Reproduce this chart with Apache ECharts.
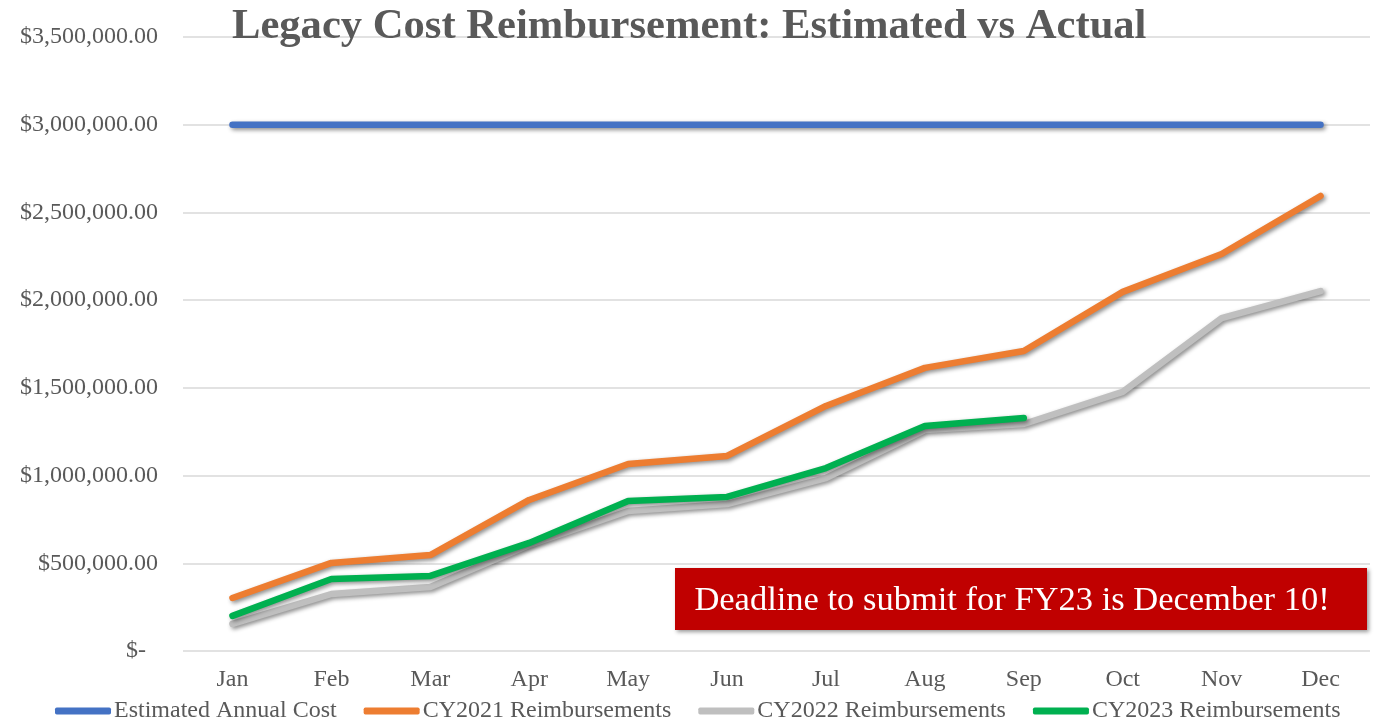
<!DOCTYPE html>
<html>
	<head>
		<meta charset="utf-8">
		<title>Legacy Cost Reimbursement</title>
		<script type="text/javascript" src="https://cdn.jsdelivr.net/npm/echarts@6/dist/echarts.min.js"></script>
		<style>
			html, body { margin: 0; padding: 0; background: #FFFFFF; }
			#main { width: 1376px; height: 721px; }
		</style>
	</head>
	<body>
		<div id="main"></div>
		<script type="text/javascript">
			// 数据
			var months = ['Jan', 'Feb', 'Mar', 'Apr', 'May', 'Jun', 'Jul', 'Aug', 'Sep', 'Oct', 'Nov', 'Dec'];
			var estimated = [3000000, 3000000, 3000000, 3000000, 3000000, 3000000, 3000000, 3000000, 3000000, 3000000, 3000000, 3000000];
			var cy2021 = [302000, 502000, 547000, 861000, 1066000, 1112000, 1397000, 1614000, 1710000, 2047000, 2263000, 2594000];
			var cy2022 = [154000, 325000, 365000, 604000, 798000, 838000, 986000, 1260000, 1294000, 1477000, 1898000, 2052000];
			var cy2023 = [200000, 410000, 428000, 616000, 855000, 878000, 1043000, 1283000, 1328000];

			var font = '"Liberation Serif", "Times New Roman", serif';

			function money(v) {
				if (v === 0) return '$-  ';
				return '$' + v.toLocaleString('en-US', { minimumFractionDigits: 2, maximumFractionDigits: 2 });
			}

			function line(name, data, color, z) {
				return {
					name: name,
					type: 'line',
					data: data,
					symbol: 'none',
					z: z,
					lineStyle: {
						width: 6.5,
						color: color,
						cap: 'round',
						join: 'round',
						shadowColor: 'rgba(0,0,0,0.45)',
						shadowBlur: 4,
						shadowOffsetX: 2,
						shadowOffsetY: 2
					},
					itemStyle: { color: color }
				};
			}

			var option = {
				animation: false,
				title: {
					text: 'Legacy Cost Reimbursement: Estimated vs Actual',
					left: 227,
					top: 0,
					textStyle: {
						fontFamily: font,
						fontSize: 42.6,
						fontWeight: 'bold',
						color: '#595959'
					}
				},
				legend: {
					bottom: -7,
					left: 50,
					itemWidth: 56,
					itemHeight: 7,
					itemGap: 27,
					icon: 'roundRect',
					textStyle: { fontFamily: font, fontSize: 24, color: '#595959', padding: [0, 0, 0, -2] },
					data: ['Estimated Annual Cost', 'CY2021 Reimbursements', 'CY2022 Reimbursements', 'CY2023 Reimbursements']
				},
				grid: { left: 183, right: 6, top: 37, bottom: 70 },
				xAxis: {
					type: 'category',
					data: months,
					boundaryGap: true,
					axisLine: { show: false },
					axisTick: { show: false },
					axisLabel: { fontFamily: font, fontSize: 24, color: '#595959', margin: 17 }
				},
				yAxis: {
					type: 'value',
					min: 0,
					max: 3500000,
					interval: 500000,
					axisLabel: { fontFamily: font, fontSize: 24, color: '#595959', margin: 25, formatter: money },
					splitLine: { lineStyle: { color: '#D9D9D9', width: 1.5 } }
				},
				series: [
					line('Estimated Annual Cost', estimated, '#4472C4', 3),
					line('CY2021 Reimbursements', cy2021, '#ED7D31', 4),
					line('CY2022 Reimbursements', cy2022, '#BFBFBF', 5),
					line('CY2023 Reimbursements', cy2023, '#00B050', 6)
				],
				graphic: [{
					type: 'group',
					left: 675,
					top: 568,
					z: 100,
					children: [{
						type: 'rect',
						shape: { x: 0, y: 0, width: 692, height: 62 },
						style: {
							fill: '#C00000',
							shadowColor: 'rgba(0,0,0,0.4)',
							shadowBlur: 4,
							shadowOffsetX: 2,
							shadowOffsetY: 2
						}
					}, {
						type: 'text',
						x: 337,
						y: 33,
						style: {
							text: 'Deadline to submit for FY23 is December 10!',
							fill: '#FFFFFF',
							font: '34.5px ' + font,
							align: 'center',
							verticalAlign: 'middle'
						}
					}]
				}]
			};

			var myChart = echarts.init(document.getElementById('main'));
			myChart.setOption(option);
		</script>
	</body>
</html>
